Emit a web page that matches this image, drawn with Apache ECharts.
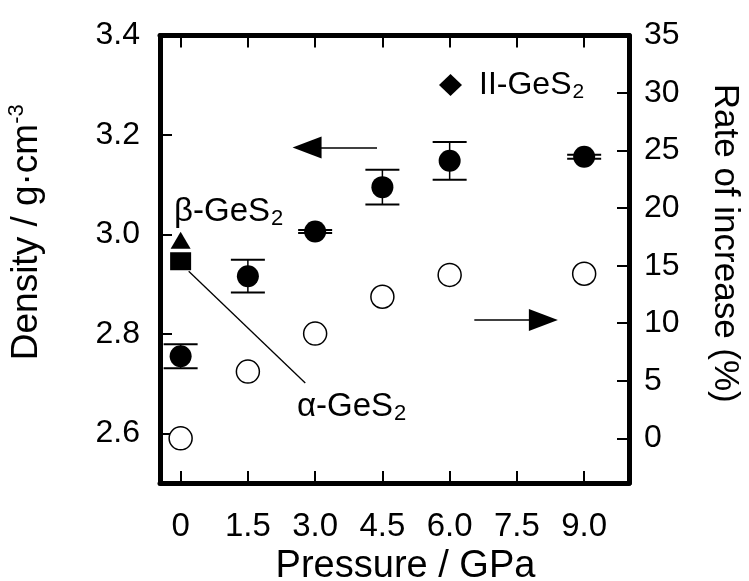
<!DOCTYPE html>
<html>
<head>
<meta charset="utf-8">
<script src="https://cdn.jsdelivr.net/npm/echarts@6/dist/echarts.min.js"></script>
<style>
  html, body { margin: 0; padding: 0; background: #fff; }
  #chart { width: 749px; height: 581px; }
</style>
</head>
<body>
<div id="chart"></div>
<script>
// pressure (GPa) of the II-GeS2 samples
var pressure = [0, 1.5, 3.0, 4.5, 6.0, 9.0];
// density (g/cm3) and error (+/-)
var density = [2.755, 2.916, 3.006, 3.095, 3.148, 3.156];
var densityErr = [0.024, 0.033, 0.003, 0.035, 0.038, 0.004];
// rate of increase (%) on the right axis
var rate = [0, 5.8, 9.1, 12.3, 14.2, 14.3];
// crystalline forms at 0 GPa
var betaPoint = [0, 2.988];
var alphaPoint = [0, 2.946];

// ticks
var xTicks = [0, 1.5, 3.0, 4.5, 6.0, 7.5, 9.0];
var xTickLabels = ['0', '1.5', '3.0', '4.5', '6.0', '7.5', '9.0'];
var yTicks = [2.6, 2.8, 3.0, 3.2, 3.4];
var y2Ticks = [0, 5, 10, 15, 20, 25, 30, 35];

var FONT = '"Liberation Sans", Arial, Helvetica, sans-serif';

var densityData = pressure.map(function (p, i) { return [p, density[i]]; });
var errData = pressure.map(function (p, i) { return [p, density[i] - densityErr[i], density[i] + densityErr[i]]; });
var rateData = pressure.map(function (p, i) { return [p, rate[i]]; });

var myChart = echarts.init(document.getElementById('chart'));

var frame = { show: true, onZero: false, lineStyle: { color: '#000', width: 5 } };
var ticksIn = function (vals, len) {
    return { show: true, inside: true, length: len, lineStyle: { color: '#000', width: 2 }, customValues: vals };
};

myChart.setOption({
    backgroundColor: '#fff',
    animation: false,
    grid: { left: 160, right: 120, top: 35.5, bottom: 98, containLabel: false, outerBoundsMode: 'none' },
    legend: {
        data: [{ name: 'II-GeS2', icon: 'diamond' }],
        selectedMode: false,
        left: 434, top: 63,
        itemWidth: 23, itemHeight: 22,
        formatter: function () { return '{b|II-GeS}{s|2}'; },
        textStyle: {
            padding: [0, 0, 0, 12],
            rich: {
                b: { fontFamily: FONT, fontSize: 32, color: '#000', lineHeight: 36 },
                s: { fontFamily: FONT, fontSize: 21, color: '#000', verticalAlign: 'bottom', lineHeight: 36, padding: [14, 0, 0, 1] }
            }
        }
    },
    xAxis: [{
        type: 'value', min: -0.46, max: 10,
        axisLine: frame,
        axisTick: ticksIn(xTicks, 12),
        splitLine: { show: false },
        axisLabel: {
            customValues: xTicks, margin: 27, color: '#000', fontFamily: FONT, fontSize: 33,
            formatter: function (v) { return xTickLabels[xTicks.indexOf(v)]; }
        },
        name: 'Pressure / GPa', nameLocation: 'middle', nameGap: 65, nameMoveOverlap: false,
        nameTextStyle: { fontFamily: FONT, fontSize: 38, color: '#000', padding: [0, 0, 0, 22] }
    }, {
        type: 'value', min: -0.46, max: 10, position: 'top',
        axisLine: frame,
        axisTick: ticksIn(xTicks, 12),
        splitLine: { show: false },
        axisLabel: { show: false }
    }],
    yAxis: [{
        type: 'value', min: 2.5, max: 3.4,
        axisLine: frame,
        axisTick: ticksIn(yTicks, 12),
        splitLine: { show: false },
        axisLabel: {
            customValues: yTicks, margin: 20, color: '#000', fontFamily: FONT, fontSize: 32,
            formatter: function (v) { return v.toFixed(1); }
        },
        name: '{a|Density / g·cm}{p|-3}', nameLocation: 'middle', nameGap: 112, nameRotate: 90,
        nameMoveOverlap: false,
        nameTextStyle: {
            padding: [0, 0, 0, 54],
            rich: {
                a: { fontFamily: FONT, fontSize: 37, color: '#000', lineHeight: 42 },
                p: { fontFamily: FONT, fontSize: 22, color: '#000', verticalAlign: 'top', lineHeight: 42, padding: [0, 0, 14, 0] }
            }
        }
    }, {
        type: 'value', min: -3.88, max: 35, position: 'right',
        axisLine: frame,
        axisTick: ticksIn(y2Ticks, 12),
        splitLine: { show: false },
        axisLabel: {
            customValues: y2Ticks, margin: 15, color: '#000', fontFamily: FONT, fontSize: 32
        },
        name: 'Rate of increase (%)', nameLocation: 'middle', nameGap: 78, nameRotate: -90,
        nameMoveOverlap: false,
        nameTextStyle: { fontFamily: FONT, fontSize: 35, color: '#000', padding: [0, 32, 0, 0] }
    }],
    graphic: [{
        type: 'text', left: 174, top: 194, silent: true,
        style: {
            text: '{a|β-GeS}{s|2}',
            rich: {
                a: { fontFamily: FONT, fontSize: 33, fill: '#000', lineHeight: 36 },
                s: { fontFamily: FONT, fontSize: 22, fill: '#000', verticalAlign: 'bottom', lineHeight: 36, padding: [14, 0, 0, 1] }
            }
        }
    }, {
        type: 'text', left: 297, top: 389, silent: true,
        style: {
            text: '{a|α-GeS}{s|2}',
            rich: {
                a: { fontFamily: FONT, fontSize: 33, fill: '#000', lineHeight: 36 },
                s: { fontFamily: FONT, fontSize: 22, fill: '#000', verticalAlign: 'bottom', lineHeight: 36, padding: [14, 0, 0, 1] }
            }
        }
    }],
    series: [{
        name: 'err',
        type: 'custom',
        data: errData,
        encode: { x: 0, y: [1, 2] },
        z: 1,
        silent: true,
        renderItem: function (params, api) {
            var x = api.value(0);
            var top = api.coord([x, api.value(2)]);
            var bot = api.coord([x, api.value(1)]);
            var w = 17;
            var st = { stroke: '#000', lineWidth: 2 };
            return {
                type: 'group',
                children: [
                    { type: 'line', shape: { x1: top[0], y1: top[1], x2: bot[0], y2: bot[1] }, style: { stroke: '#000', lineWidth: 1.5 } },
                    { type: 'line', shape: { x1: top[0] - w, y1: top[1], x2: top[0] + w, y2: top[1] }, style: st },
                    { type: 'line', shape: { x1: bot[0] - w, y1: bot[1], x2: bot[0] + w, y2: bot[1] }, style: st }
                ]
            };
        }
    }, {
        name: 'II-GeS2',
        type: 'scatter',
        data: densityData,
        symbol: 'circle',
        symbolSize: 22,
        itemStyle: { color: '#000', opacity: 1 },
        z: 3,
        markLine: {
            silent: true, animation: false,
            label: { show: false },
            lineStyle: { color: '#000', width: 1.5, type: 'solid' },
            data: [[
                { coord: [4.38, 3.175], symbol: 'none' },
                { coord: [2.82, 3.175], symbol: 'triangle', symbolSize: [22, 29] }
            ]]
        }
    }, {
        name: 'rate',
        type: 'scatter',
        yAxisIndex: 1,
        data: rateData,
        symbol: 'circle',
        symbolSize: 23,
        itemStyle: { color: '#fff', borderColor: '#000', borderWidth: 1.5, opacity: 1 },
        z: 3,
        markLine: {
            silent: true, animation: false,
            label: { show: false },
            lineStyle: { color: '#000', width: 1.5, type: 'solid' },
            data: [[
                { coord: [6.55, 10.28], symbol: 'none' },
                { coord: [8.09, 10.28], symbol: 'triangle', symbolSize: [22, 29] }
            ]]
        }
    }, {
        name: 'beta',
        type: 'scatter',
        data: [betaPoint],
        symbol: 'triangle',
        symbolSize: [20, 17],
        itemStyle: { color: '#000', opacity: 1 },
        z: 3
    }, {
        name: 'alpha',
        type: 'scatter',
        data: [alphaPoint],
        symbol: 'rect',
        symbolSize: [21, 18],
        itemStyle: { color: '#000', opacity: 1 },
        z: 4,
        markLine: {
            silent: true, animation: false,
            label: { show: false },
            lineStyle: { color: '#000', width: 1.3, type: 'solid' },
            symbol: 'none',
            data: [[
                { coord: [0.18, 2.926] },
                { coord: [2.78, 2.701] }
            ]]
        }
    }]
});
</script>
</body>
</html>
